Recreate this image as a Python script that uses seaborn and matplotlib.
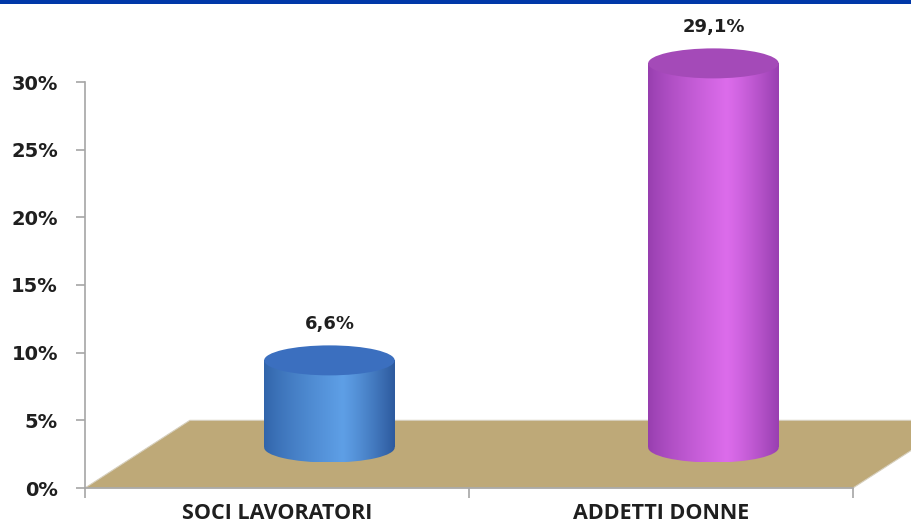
import numpy as np
import matplotlib
matplotlib.use("Agg")
import matplotlib.pyplot as plt
import seaborn as sns
from matplotlib.patches import Polygon, Ellipse, Rectangle
from matplotlib.colors import to_rgb

# ---------------- data ----------------
categories = ["SOCI LAVORATORI", "ADDETTI DONNE"]
values = [6.6, 29.1]
value_labels = ["6,6%", "29,1%"]
y_ticks = [0, 5, 10, 15, 20, 25, 30]
y_tick_labels = ["0%", "5%", "10%", "15%", "20%", "25%", "30%"]

# ---------------- style ----------------
side_colors = [("#3164aa", "#5e9fe6", "#2d5a9e"),
               ("#963eae", "#dc6ceb", "#993fb1")]
top_colors = ["#3b6fbf", "#a44ab8"]
floor_color = "#bea978"
axis_grey = "#a6a6a6"
text_dark = "#1f1f1f"

sns.set_theme(style="white")
plt.rcParams["font.family"] = ["DejaVu Sans"]

W, H = 912, 527
fig = plt.figure(figsize=(W / 100, H / 100), dpi=100)

# pixel geometry of the plotting area (from top-left)
px_left, px_right, px_zero, px_top = 85, 853, 488, 82
rect = [px_left / W, (H - px_zero) / H, (px_right - px_left) / W, (px_zero - px_top) / H]

# ---------------- main axes (scale, floor, labels) ----------------
ax = fig.add_axes(rect)
ax.set_facecolor("white")
depth_x = 0.273   # floor depth offset in category units
depth_y = 5.0     # floor depth in % units
floor = Polygon([(-0.5, 0), (1.5, 0), (1.5 + depth_x, depth_y), (-0.5 + depth_x, depth_y)],
                closed=True, facecolor=floor_color, edgecolor="#d6cfbd", lw=0.8,
                clip_on=False, zorder=1.5)
ax.add_patch(floor)

ax.set_xlim(-0.5, 1.5)
ax.set_ylim(0, 30)
ax.set_yticks(y_ticks, y_tick_labels)
ax.set_xticks([0, 1], categories)
ax.set_xticks([-0.5, 0.5, 1.5], minor=True)
ax.tick_params(axis="y", which="major", left=True, length=6.5, width=1.2, color=axis_grey,
               pad=13, labelsize=14, labelcolor=text_dark)
ax.tick_params(axis="x", which="major", length=0, pad=11, labelcolor=text_dark)
ax.tick_params(axis="x", which="minor", bottom=True, length=7, width=1.2, color=axis_grey)
for t in ax.get_yticklabels():
    t.set_fontweight("bold")
for t in ax.get_xticklabels():
    t.set_family(["Open Sans", "DejaVu Sans"])
    t.set_fontweight("bold")
    t.set_fontsize(15.5)
sns.despine(ax=ax)
for s in ("left", "bottom"):
    ax.spines[s].set_color(axis_grey)
    ax.spines[s].set_linewidth(1.2)
ax.grid(False)

# ---------------- bar axes (full-figure overlay, perspective offsets) ----------------
ax2 = fig.add_axes([0, 0, 1, 1])
ax2.patch.set_alpha(0)
bar_width = 0.34
sns.barplot(x=categories, y=values, hue=categories, palette=[c[1] for c in side_colors],
            legend=False, errorbar=None, width=bar_width, ax=ax2)

px_base = 447.5      # pixel row of bar base centre
px_per_unit = 13.2   # pixel per % for bar heights
ell_h = 30 / px_per_unit  # ellipse height in data units

def grad_img(cols, n=256):
    l, m, r = [np.array(to_rgb(c)) for c in cols]
    t = np.linspace(0, 1, n)
    out = np.zeros((1, n, 3))
    for i, tt in enumerate(t):
        if tt < 0.6:
            f = tt / 0.6
            out[0, i] = l + (m - l) * (f ** 0.8)
        else:
            f = (tt - 0.6) / 0.4
            out[0, i] = m + (r - m) * (f ** 1.2)
    return out

patches = sorted(ax2.patches, key=lambda p: p.get_x())
for p, cols, tc, v, lab in zip(patches, side_colors, top_colors, values, value_labels):
    x0, w, h = p.get_x(), p.get_width(), p.get_height()
    cx = x0 + w / 2
    img = grad_img(cols)
    p.set_facecolor("none")
    p.set_edgecolor("none")
    im = ax2.imshow(img, extent=(x0, x0 + w, 0, h), aspect="auto", zorder=2,
                    interpolation="bilinear")
    im.set_clip_path(p)
    bottom = Ellipse((cx, 0), w, ell_h, facecolor="none", edgecolor="none")
    ax2.add_patch(bottom)
    im2 = ax2.imshow(img, extent=(x0, x0 + w, -ell_h / 2, ell_h / 2), aspect="auto",
                     zorder=2, interpolation="bilinear")
    im2.set_clip_path(bottom)
    ax2.add_patch(Ellipse((cx, h), w, ell_h, facecolor=tc, edgecolor="none", zorder=4))
    ax2.annotate(lab, xy=(cx, h), xytext=(0, 26), textcoords="offset points",
                 ha="center", va="center", fontsize=13, fontweight="bold", color=text_dark)

# map full figure pixels to data coordinates for the overlay
def px_to_x(px):
    return (px - px_left) / (px_right - px_left) * 2 - 0.5 - depth_x / 2
ax2.set_xlim(px_to_x(0), px_to_x(W))
ax2.set_ylim((px_base - H) / px_per_unit, px_base / px_per_unit)
ax2.axis("off")

# top band
fig.add_artist(Rectangle((0, 1 - 4 / H), 1, 4 / H, transform=fig.transFigure,
                         facecolor="#0038a8", edgecolor="none"))

fig.savefig("out.png", dpi=100)
